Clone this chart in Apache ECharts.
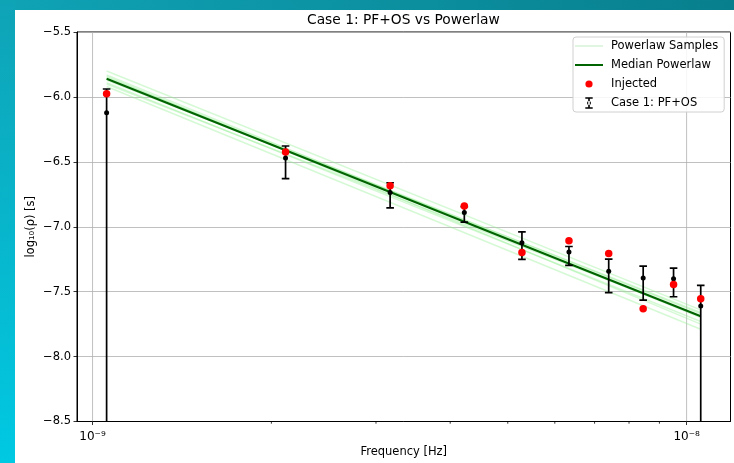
<!DOCTYPE html>
<html><head><meta charset="utf-8">
<script src="https://cdn.jsdelivr.net/npm/echarts@6/dist/echarts.min.js"></script>
<style>html,body{margin:0;padding:0;background:#fff}#c{width:734px;height:463px}</style>
</head><body><div id="c"></div>
<script>
// ---- data ----
const freqs = [1.056e-9, 2.113e-9, 3.169e-9, 4.225e-9, 5.282e-9, 6.338e-9, 7.394e-9, 8.451e-9, 9.507e-9, 1.0563e-8];
const injected = [-5.975, -6.425, -6.684, -6.840, -7.198, -7.108, -7.206, -7.632, -7.444, -7.555];
const recovered = [-6.122, -6.471, -6.736, -6.890, -7.123, -7.195, -7.342, -7.395, -7.400, -7.611];
const errLow = [-9.0, -6.630, -6.854, -6.964, -7.252, -7.298, -7.507, -7.565, -7.539, -9.0];
const errHigh = [-5.939, -6.378, -6.661, -6.845, -7.039, -7.152, -7.249, -7.303, -7.318, -7.452];
const medianEnds = [-5.86, -7.69];
const sampleStart = [-5.80, -5.83, -5.87, -5.89, -5.92, -5.85, -5.84, -5.90];
const sampleEnd = [-7.64, -7.70, -7.66, -7.73, -7.79, -7.67, -7.75, -7.69];
const yTicks = [-8.5, -8.0, -7.5, -7.0, -6.5, -6.0, -5.5];
const xMajorTicks = [1e-9, 1e-8];
const xMajorLabels = ['10⁻⁹', '10⁻⁸'];
const xMinorTicks = [2e-9, 3e-9, 4e-9, 5e-9, 6e-9, 7e-9, 8e-9, 9e-9];
const xRange = [9.415e-10, 1.1855e-8];

const FONT = 'DejaVu Sans';
const yMin = yTicks[0], yMax = yTicks[yTicks.length - 1];
const fFirst = freqs[0], fLast = freqs[freqs.length - 1];

const lineIcon = 'path://M0,0 M28,14 M0,6 h28 v2 h-28 z';
const circleIcon = 'path://M0,0 M28,14 M10.4,7 a3.6,3.6 0 1,0 7.2,0 a3.6,3.6 0 1,0 -7.2,0 z';
const errIcon = 'path://M0,0 M28,14 M13.2,2 h1.6 v10 h-1.6 z M10.3,1.2 h7.4 v1.6 h-7.4 z M10.3,11.2 h7.4 v1.6 h-7.4 z M12,7 a2,2 0 1,0 4,0 a2,2 0 1,0 -4,0 z';

const series = [];
// vertical grid lines at decades
series.push({
  type: 'custom', z: 1, silent: true, clip: true,
  data: xMajorTicks.map(v => [v]),
  renderItem: (p, api) => {
    const a = api.coord([api.value(0), yMin]), b = api.coord([api.value(0), yMax]);
    return {type: 'line', shape: {x1: a[0], y1: a[1], x2: b[0], y2: b[1]}, style: {stroke: '#b0b0b0', lineWidth: 0.8}};
  }
});
// minor ticks
series.push({
  type: 'custom', z: 1, silent: true, clip: false,
  data: xMinorTicks.map(v => [v]),
  renderItem: (p, api) => {
    const a = api.coord([api.value(0), yMin]);
    return {type: 'line', shape: {x1: a[0], y1: a[1], x2: a[0], y2: a[1] + 2.2}, style: {stroke: '#000', lineWidth: 0.8}};
  }
});
// powerlaw samples
sampleStart.forEach((s, i) => {
  series.push({
    name: 'Powerlaw Samples', type: 'line', symbol: 'none', z: 2, silent: true,
    itemStyle: {color: '#90ee90'},
    lineStyle: {color: '#90ee90', width: 1.5, opacity: 0.38},
    data: [[fFirst, s], [fLast, sampleEnd[i]]]
  });
});
series.push({
  name: 'Median Powerlaw', type: 'line', symbol: 'none', z: 3, silent: true,
  itemStyle: {color: '#006400'},
  lineStyle: {color: '#006400', width: 2.1},
  data: [[fFirst, medianEnds[0]], [fLast, medianEnds[1]]]
});
series.push({
  name: 'Case 1: PF+OS', type: 'custom', z: 4, clip: true, silent: true,
  itemStyle: {color: '#000'},
  encode: {x: 0, y: [1, 2]},
  data: freqs.map((f, i) => [f, errLow[i], errHigh[i]]),
  renderItem: (p, api) => {
    const x = api.value(0);
    const lo = api.coord([x, api.value(1)]), hi = api.coord([x, api.value(2)]);
    const cap = 3.8, st = {stroke: '#000', lineWidth: 1.7};
    return {type: 'group', children: [
      {type: 'line', shape: {x1: lo[0], y1: lo[1], x2: hi[0], y2: hi[1]}, style: st},
      {type: 'line', shape: {x1: hi[0] - cap, y1: hi[1], x2: hi[0] + cap, y2: hi[1]}, style: st},
      {type: 'line', shape: {x1: lo[0] - cap, y1: lo[1], x2: lo[0] + cap, y2: lo[1]}, style: st}
    ]};
  }
});
series.push({
  name: 'Case 1: PF+OS', type: 'scatter', z: 5, silent: true, symbolSize: 5,
  itemStyle: {color: '#000', opacity: 1},
  data: freqs.map((f, i) => [f, recovered[i]])
});
series.push({
  name: 'Injected', type: 'scatter', z: 6, silent: true, symbolSize: 7.5,
  itemStyle: {color: '#ff0000', opacity: 1},
  data: freqs.map((f, i) => [f, injected[i]])
});

const chart = echarts.init(document.getElementById('c'), null, {renderer: 'canvas'});
chart.setOption({
  animation: false,
  backgroundColor: '#ffffff',
  textStyle: {fontFamily: FONT},
  title: {
    text: 'Case 1: PF+OS vs Powerlaw', left: 307, top: 13, padding: 0,
    textStyle: {fontFamily: FONT, fontSize: 13.8, fontWeight: 'normal', color: '#000'}
  },
  graphic: [
    {type: 'rect', left: 0, top: 0, z: 100, silent: true, shape: {width: 734, height: 10},
     style: {fill: new echarts.graphic.LinearGradient(0, 0, 1, 0, [{offset: 0, color: '#0fa3b6'}, {offset: 1, color: '#087f8d'}])}},
    {type: 'rect', left: 0, top: 0, z: 100, silent: true, shape: {width: 15, height: 463},
     style: {fill: new echarts.graphic.LinearGradient(0, 0, 0, 1, [{offset: 0, color: '#0fa3b6'}, {offset: 1, color: '#00c9e2'}])}}
  ],
  legend: {
    left: 573, top: 37, orient: 'vertical', z: 20,
    padding: [2, 6, 2, 2], itemGap: 5, itemWidth: 28, itemHeight: 14,
    backgroundColor: 'rgba(255,255,255,0.85)', borderColor: '#d0d0d0', borderWidth: 1, borderRadius: 3,
    selectedMode: false,
    textStyle: {fontFamily: FONT, fontSize: 11.5, color: '#000', padding: [0, 0, 0, 3]},
    data: [
      {name: 'Powerlaw Samples', icon: lineIcon, itemStyle: {color: '#e0f6e0'}},
      {name: 'Median Powerlaw', icon: lineIcon, itemStyle: {color: '#006400'}},
      {name: 'Injected', icon: circleIcon, itemStyle: {color: '#ff0000'}},
      {name: 'Case 1: PF+OS', icon: errIcon, itemStyle: {color: '#000'}}
    ]
  },
  grid: {left: 77, top: 32, width: 653.5, height: 389.5, show: true, borderColor: '#000', borderWidth: 1,
         backgroundColor: 'transparent', outerBoundsMode: 'none', containLabel: false},
  xAxis: {
    type: 'log', logBase: 10, min: xRange[0], max: xRange[1],
    name: 'Frequency [Hz]', nameLocation: 'middle', nameGap: 25, nameMoveOverlap: false,
    nameTextStyle: {fontFamily: FONT, fontSize: 11.5, color: '#000'},
    axisLine: {show: true, lineStyle: {color: '#000', width: 1}},
    axisTick: {show: true, length: 3.5, lineStyle: {color: '#000', width: 0.8}, customValues: xMajorTicks},
    axisLabel: {show: true, margin: 9, fontFamily: FONT, fontSize: 12, color: '#000', customValues: xMajorTicks,
      formatter: v => { const i = xMajorTicks.findIndex(t => Math.abs(Math.log10(t) - Math.log10(v)) < 1e-6); return i >= 0 ? xMajorLabels[i] : ''; }},
    splitLine: {show: false}
  },
  yAxis: {
    type: 'value', min: yMin, max: yMax, interval: 0.5,
    name: 'log₁₀(ρ) [s]', nameLocation: 'middle', nameGap: 40, nameRotate: 90, nameMoveOverlap: false,
    nameTextStyle: {fontFamily: FONT, fontSize: 11.5, color: '#000'},
    axisLine: {show: true, lineStyle: {color: '#000', width: 1}},
    axisTick: {show: true, length: 3.5, lineStyle: {color: '#000', width: 0.8}},
    axisLabel: {margin: 6, fontFamily: FONT, fontSize: 11.5, color: '#000',
      formatter: v => v.toFixed(1).replace('-', '−')},
    splitLine: {show: true, lineStyle: {color: '#b0b0b0', width: 0.8}}
  },
  series: series
});
</script></body></html>
